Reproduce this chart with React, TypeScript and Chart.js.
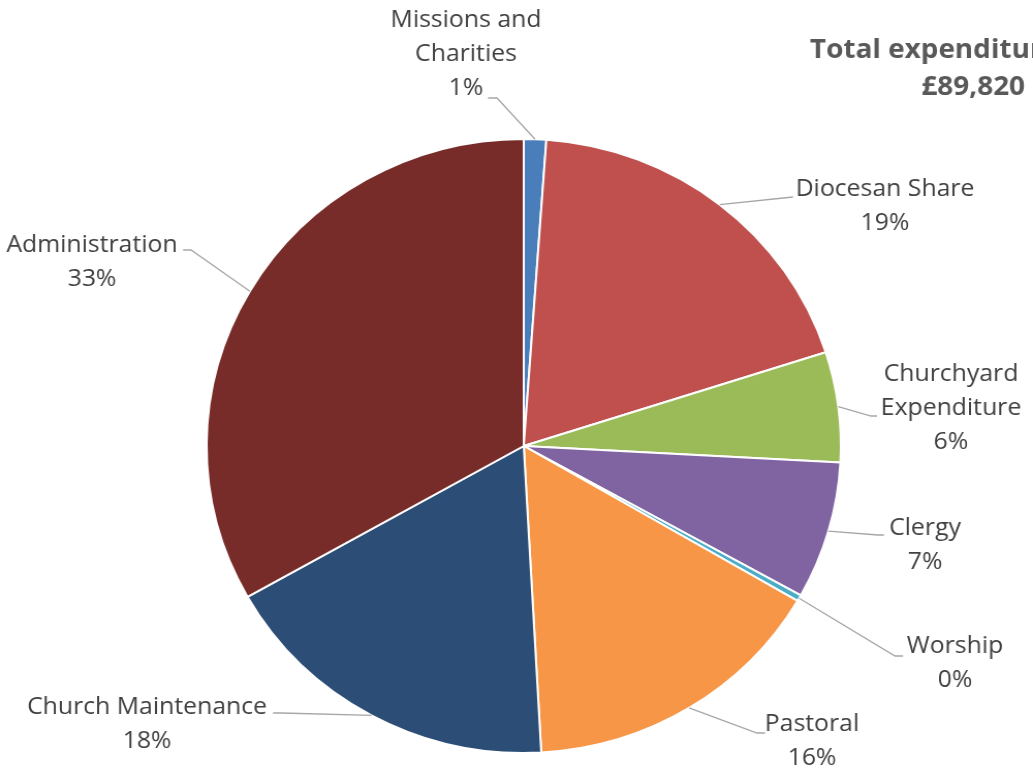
import { useEffect, useRef } from "react";
import { Chart, registerables } from "chart.js";

Chart.register(...registerables);

const categories = [
  "Missions and Charities",
  "Diocesan Share",
  "Churchyard Expenditure",
  "Clergy",
  "Worship",
  "Pastoral",
  "Church Maintenance",
  "Administration",
];
const labelLines = [
  ["Missions and", "Charities"],
  ["Diocesan Share"],
  ["Churchyard", "Expenditure"],
  ["Clergy"],
  ["Worship"],
  ["Pastoral"],
  ["Church Maintenance"],
  ["Administration"],
];
const expenditure = [1020, 17000, 5200, 6500, 300, 14100, 15900, 29800];
const titleLines = ["Total expenditure", "£89,820"];
const sliceColors = [
  "#4A7EBB",
  "#C0504D",
  "#9BBB59",
  "#8064A2",
  "#4BACC6",
  "#F79646",
  "#2C4D75",
  "#772C2A",
];

// Label layout (page pixels): text centre x, first-line middle y, leader end, elbow
const labelLayout = [
  { tx: 466, ty: 20, ex: 488, ey: 98, bx: 497, by: 98 },
  { tx: 885, ty: 189, ex: 793, ey: 197, bx: 793, by: 197 },
  { tx: 951, ty: 374, ex: 877, ey: 416, bx: 871, by: 416 },
  { tx: 925, ty: 528, ex: 884, ey: 535, bx: 878, by: 535 },
  { tx: 955, ty: 646, ex: 903, ey: 656, bx: 895, by: 656 },
  { tx: 812, ty: 724, ex: 765, ey: 733, bx: 757, by: 733 },
  { tx: 147, ty: 707, ex: 273, ey: 713, bx: 281, by: 713 },
  { tx: 92, ty: 245, ex: 183, ey: 250, bx: 191, by: 250 },
];

const PAGE_W = 1033;
const PAGE_H = 776;
const CANVAS_W = 1000;
const SX = PAGE_W / CANVAS_W;
const LINE_H = 34;

const labelPlugin = {
  id: "pieLabels",
  afterDraw(chart: any) {
    const ctx = chart.ctx;
    const meta = chart.getDatasetMeta(0);
    const total = expenditure.reduce((a, b) => a + b, 0);
    ctx.save();
    meta.data.forEach((arc: any, i: number) => {
      const { x, y, startAngle, endAngle, outerRadius } = arc.getProps(
        ["x", "y", "startAngle", "endAngle", "outerRadius"],
        true
      );
      const mid = (startAngle + endAngle) / 2;
      const ax = x + outerRadius * Math.cos(mid);
      const ay = y + outerRadius * Math.sin(mid);
      const L = labelLayout[i];
      ctx.strokeStyle = "#A6A6A6";
      ctx.lineWidth = 1.3;
      ctx.beginPath();
      ctx.moveTo(ax, ay);
      ctx.lineTo(L.bx / SX, L.by);
      ctx.lineTo(L.ex / SX, L.ey);
      ctx.stroke();

      ctx.fillStyle = "#404040";
      ctx.font = "24px 'Open Sans'";
      ctx.textAlign = "center";
      ctx.textBaseline = "middle";
      const pct = Math.round((expenditure[i] / total) * 100) + "%";
      const lines = [...labelLines[i], pct];
      lines.forEach((t, k) => {
        ctx.fillText(t, L.tx / SX, L.ty + k * LINE_H);
      });
    });
    // title
    ctx.fillStyle = "#595959";
    ctx.font = "bold 27px 'Open Sans'";
    ctx.textBaseline = "middle";
    ctx.textAlign = "left";
    ctx.fillText(titleLines[0], 810 / SX, 50);
    ctx.textAlign = "right";
    ctx.fillText(titleLines[1], 1025 / SX, 87);
    ctx.restore();
  },
};

export default function App() {
  const ref = useRef<HTMLCanvasElement>(null);
  useEffect(() => {
    if (!ref.current) return;
    const chart = new Chart(ref.current, {
      type: "pie",
      data: {
        labels: categories,
        datasets: [
          {
            data: expenditure,
            backgroundColor: sliceColors,
            borderColor: "#FFFFFF",
            borderWidth: 2,
            hoverOffset: 0,
          },
        ],
      },
      options: {
        responsive: false,
        animation: false,
        layout: { padding: { left: 199, right: 185, top: 138, bottom: 22 } },
        plugins: {
          legend: { display: false },
          tooltip: { enabled: false },
          title: { display: false },
        },
      },
      plugins: [labelPlugin],
    });
    return () => chart.destroy();
  }, []);
  return (
    <div
      style={{
        position: "fixed",
        left: 0,
        top: 0,
        width: PAGE_W,
        height: PAGE_H,
        background: "#FFFFFF",
        overflow: "hidden",
      }}
    >
      <canvas
        ref={ref}
        width={CANVAS_W}
        height={PAGE_H}
        style={{ width: PAGE_W + "px", height: PAGE_H + "px", display: "block" }}
      />
    </div>
  );
}
